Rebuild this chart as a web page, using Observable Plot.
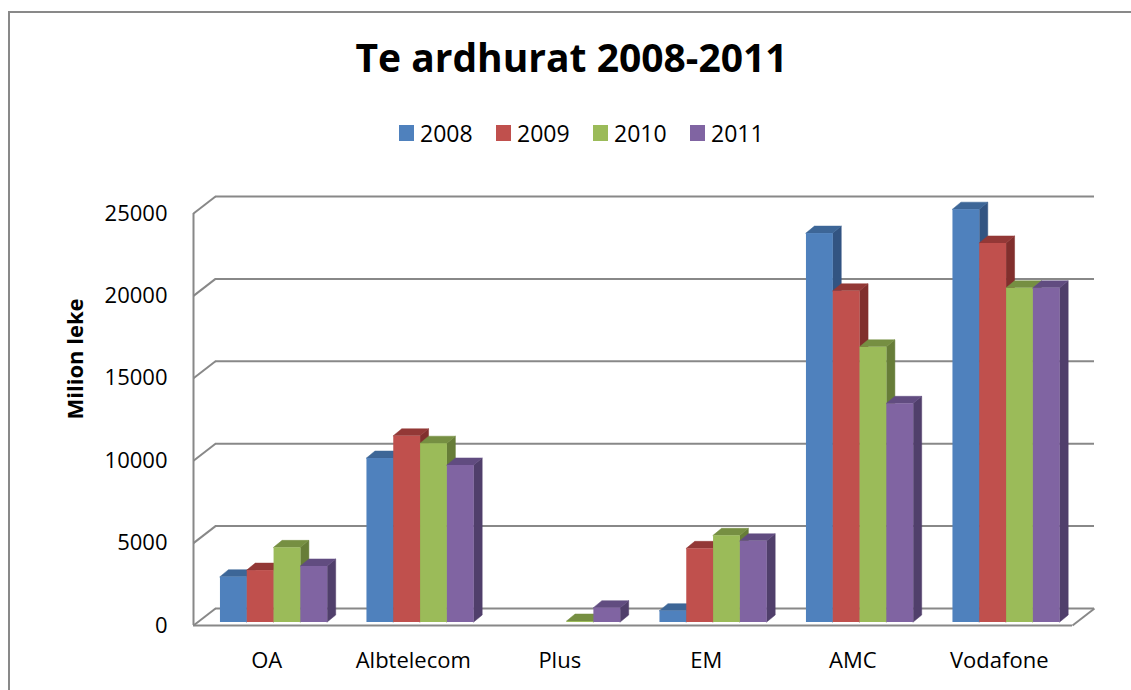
<!DOCTYPE html>
<html>
<head>
<meta charset="utf-8">
<script src="https://cdn.jsdelivr.net/npm/d3@7"></script>
<script src="https://cdn.jsdelivr.net/npm/@observablehq/plot@0.6"></script>
<style>
  html, body { margin: 0; padding: 0; background: #fff; overflow: hidden; }
  body { width: 1131px; height: 690px; position: relative; font-family: "Open Sans", sans-serif; }
  #frame { position: absolute; left: 8px; top: 11px; width: 1300px; height: 900px; border: 2px solid #898989; box-sizing: border-box; }
  #title { position: absolute; left: 0; width: 1143px; top: 37px; text-align: center; font-size: 39px; line-height: 39px; font-weight: bold; color: #000; }
  #legend { position: absolute; left: 399px; top: 118px; display: flex; }
  .item { width: 97px; display: flex; align-items: center; font-size: 23px; line-height: 30px; color: #000; }
  .sw { width: 15px; height: 16px; margin-right: 6px; }
  #chart { position: absolute; left: 0; top: 180px; }
</style>
</head>
<body>
<div id="frame"></div>
<div id="chart"></div>
<div id="title">Te ardhurat 2008-2011</div>
<div id="legend"></div>
<script>
// ---- data ----
const categories = ["OA", "Albtelecom", "Plus", "EM", "AMC", "Vodafone"];
const years = ["2008", "2009", "2010", "2011"];
const v2008 = [2750, 9950, null, 690, 23600, 25050];
const v2009 = [3150, 11300, null, 4470, 20100, 23000];
const v2010 = [4530, 10850, 60, 5260, 16700, 20280];
const v2011 = [3400, 9530, 870, 4930, 13270, 20280];
const yTicks = [0, 5000, 10000, 15000, 20000, 25000];
const frontColors = ["#4F81BD", "#C0504D", "#9BBB59", "#8064A2"];
const sideColors = ["#325482", "#812f2d", "#677d38", "#503f6b"];
const topColors = ["#3d6697", "#933836", "#768f42", "#614c80"];

const series = [v2008, v2009, v2010, v2011];
const gridColor = "#888888";

// geometry (in category units / value units)
const barW = 0.183, start = 0.184;
const dXu = 8.5 / 146.5, dYu = 7 * 25000 / 412;
const wallDX = 22 / 146.5, wallDY = 17 * 25000 / 412;

const rows = categories.flatMap((c, ci) => years.map((y, yi) => ({
  c, ci, year: y, yi, v: series[yi][ci],
  xl: ci + start + yi * barW, xr: ci + start + (yi + 1) * barW, id: c + y
}))).filter(d => d.v != null && d.v > 0);

const barMarks = years.flatMap((y, yi) => {
  const R = rows.filter(d => d.yi === yi);
  const side = R.flatMap(d => [
    {id: d.id, x: d.xr, y1: 0, y2: d.v},
    {id: d.id, x: d.xr + dXu, y1: dYu, y2: d.v + dYu}
  ]);
  const top = R.flatMap(d => [
    {id: d.id, y: d.v, x1: d.xl, x2: d.xr},
    {id: d.id, y: d.v + dYu, x1: d.xl + dXu, x2: d.xr + dXu}
  ]);
  return [
    Plot.areaY(side, {x: "x", y1: "y1", y2: "y2", z: "id", fill: sideColors[yi], stroke: sideColors[yi], strokeWidth: 0.5, dy: -3}),
    Plot.areaX(top, {y: "y", x1: "x1", x2: "x2", z: "id", fill: topColors[yi], stroke: topColors[yi], strokeWidth: 0.5, dy: -3}),
    Plot.rect(R, {x1: "xl", x2: "xr", y1: 0, y2: "v", fill: frontColors[yi], dy: -3, inset: 0})
  ];
});

const chart = Plot.plot({
  width: 1131,
  height: 510,
  marginLeft: 193,
  marginRight: 59,
  marginTop: 33,
  marginBottom: 65,
  style: {fontFamily: "Open Sans", fontSize: "22px", color: "#000", background: "transparent", overflow: "visible"},
  x: {
    domain: [0, 6],
    ticks: categories.map((c, i) => i + 0.5),
    tickFormat: t => categories[Math.floor(t)],
    tickSize: 0,
    tickPadding: 27,
    label: null
  },
  y: {
    domain: [0, 25000],
    ticks: yTicks,
    tickFormat: d => String(d),
    tickSize: 0,
    tickPadding: 26,
    label: null
  },
  marks: [
    Plot.ruleY(yTicks, {dx: 22, dy: -17, stroke: gridColor, strokeWidth: 2}),
    Plot.link(yTicks, {x1: 0, y1: t => t, x2: wallDX, y2: t => t + wallDY, stroke: gridColor, strokeWidth: 2}),
    Plot.link([0], {x1: 6, y1: 0, x2: 6 + wallDX, y2: wallDY, stroke: gridColor, strokeWidth: 2}),
    Plot.ruleY([0], {stroke: gridColor, strokeWidth: 2}),
    Plot.ruleX([0], {y1: 0, y2: 25000, stroke: gridColor, strokeWidth: 2}),
    ...barMarks,
    Plot.text(["Milion leke"], {frameAnchor: "left", dx: -118, rotate: -90, fontWeight: "bold", fontSize: 22, fill: "#000"})
  ]
});
document.getElementById("chart").appendChild(chart);

// legend
const legend = document.getElementById("legend");
years.forEach((y, i) => {
  const it = document.createElement("div");
  it.className = "item";
  it.innerHTML = `<span class="sw" style="background:${frontColors[i]}"></span><span>${y}</span>`;
  legend.appendChild(it);
});
</script>
</body>
</html>
